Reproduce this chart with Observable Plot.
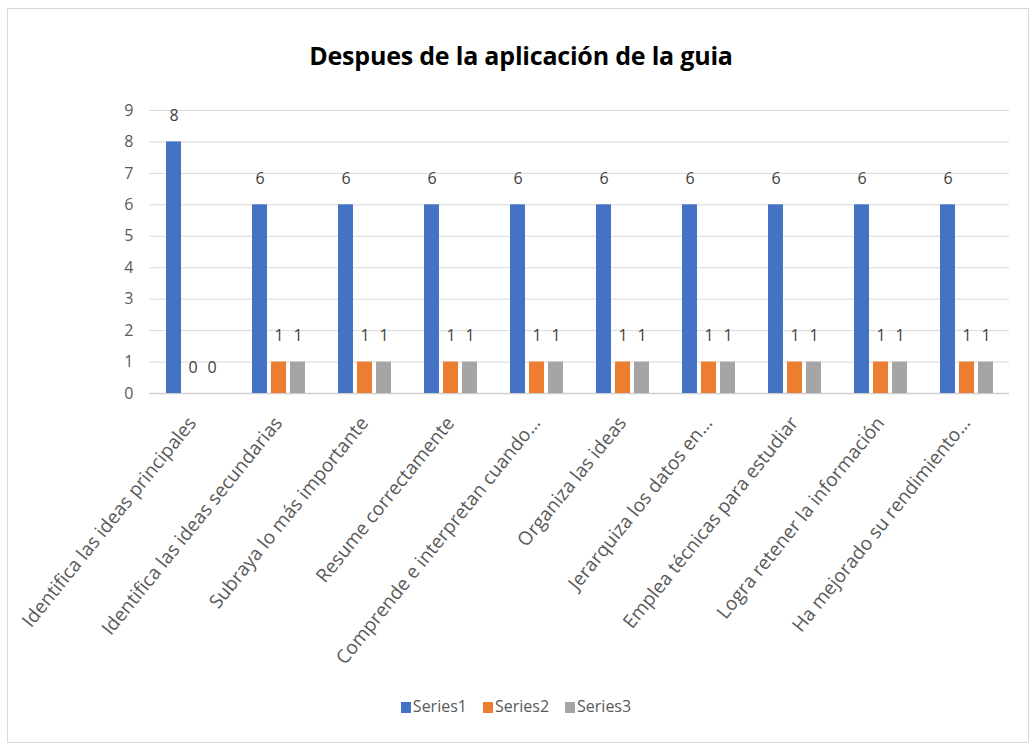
<!DOCTYPE html>
<html>
<head>
<meta charset="utf-8">
<script src="https://cdn.jsdelivr.net/npm/d3@7"></script>
<script src="https://cdn.jsdelivr.net/npm/@observablehq/plot@0.6"></script>
<style>
  html, body { margin: 0; padding: 0; background: #fff; }
  body { width: 1035px; height: 749px; position: relative; overflow: hidden; font-family: "Open Sans", sans-serif; }
  #frame { position: absolute; left: 7px; top: 8px; width: 1022px; height: 735px; border: 1px solid #d9d9d9; box-sizing: border-box; }
  #title { position: absolute; left: 0; top: 38px; width: 1042px; text-align: center; font-size: 25px; font-weight: bold; color: #000; letter-spacing: -0.2px; }
  #chart { position: absolute; left: 0; top: 0; }
  #legend { position: absolute; top: 695px; left: 0; width: 1032px; display: flex; justify-content: center; gap: 16px; font-size: 16px; color: #595959; }
  #legend span.sw { display: inline-block; width: 10px; height: 11px; margin-right: 2px; vertical-align: -1px; }
</style>
</head>
<body>
<div id="frame"></div>
<div id="title">Despues de la aplicación de la guia</div>
<div id="chart"></div>
<div id="legend"></div>
<script>
const categories = [
  "Identifica las ideas principales",
  "Identifica las ideas secundarias",
  "Subraya lo más importante",
  "Resume correctamente",
  "Comprende e interpretan cuando…",
  "Organiza las ideas",
  "Jerarquiza los datos en…",
  "Emplea técnicas para estudiar",
  "Logra retener la información",
  "Ha mejorado su rendimiento…"
];
const seriesNames = ["Series1", "Series2", "Series3"];
const series1 = [8, 6, 6, 6, 6, 6, 6, 6, 6, 6];
const series2 = [0, 1, 1, 1, 1, 1, 1, 1, 1, 1];
const series3 = [0, 1, 1, 1, 1, 1, 1, 1, 1, 1];
const colors = ["#4472C4", "#ED7D31", "#A5A5A5"];
const yTicks = [0, 1, 2, 3, 4, 5, 6, 7, 8, 9];

const seriesValues = [series1, series2, series3];
const data = [];
categories.forEach((c, i) => {
  seriesNames.forEach((s, j) => {
    data.push({category: c, series: s, value: seriesValues[j][i]});
  });
});

const chart = Plot.plot({
  width: 1035,
  height: 690,
  marginLeft: 147,
  marginRight: 25,
  marginTop: 110,
  marginBottom: 297,
  style: {fontFamily: "'Open Sans', sans-serif", background: "transparent"},
  fx: {domain: categories, padding: 0, label: null},
  x: {domain: seriesNames, paddingInner: 0.23, paddingOuter: 0.83, axis: null},
  y: {domain: [0, 9], ticks: yTicks, label: null},
  color: {domain: seriesNames, range: colors},
  marks: [
    Plot.gridY(yTicks, {stroke: "#d9d9d9", strokeOpacity: 1, strokeWidth: 1}),
    Plot.axisY(yTicks, {tickSize: 0, tickPadding: 16, fontSize: 16, color: "#595959", label: null}),
    Plot.ruleY([0], {stroke: "#d0d0d0", strokeWidth: 1.5}),
    Plot.barY(data, {fx: "category", x: "series", y: "value", fill: "series"}),
    Plot.text(data, {fx: "category", x: "series", y: "value", text: d => String(d.value), dy: -26, fontSize: 16, fill: "#404040"}),
    Plot.axisFx({tickRotate: -51, tickSize: 0, tickPadding: 26, fontSize: 19, color: "#595959", label: null, anchor: "bottom"})
  ]
});
document.getElementById("chart").appendChild(chart);

const legend = document.getElementById("legend");
seriesNames.forEach((s, i) => {
  const item = document.createElement("div");
  const sw = document.createElement("span");
  sw.className = "sw";
  sw.style.background = colors[i];
  item.appendChild(sw);
  item.appendChild(document.createTextNode(s));
  legend.appendChild(item);
});
</script>
</body>
</html>
